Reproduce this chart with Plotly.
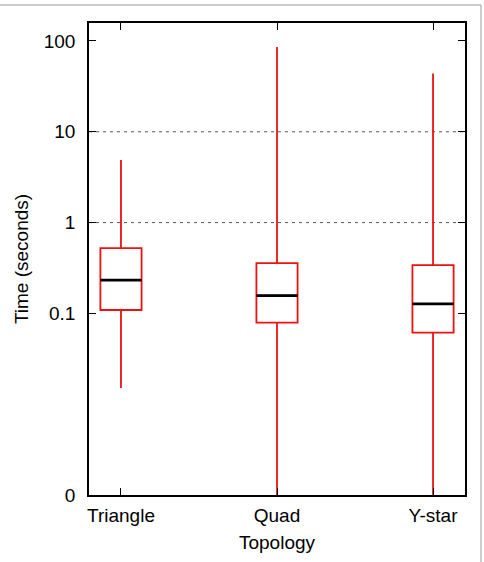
import plotly.graph_objects as go

categories = ["Triangle", "Quad", "Y-star"]
q1 = [0.109, 0.079, 0.0614]
median = [0.233, 0.157, 0.127]
q3 = [0.524, 0.358, 0.340]
lower = [0.0151, 0.001, 0.001]
upper = [4.89, 85.9, 43.8]

ytick_vals = [0.001, 0.1, 1, 10, 100]
ytick_text = ["0", "0.1", "1", "10", "100"]
grid_vals = [1, 10]

xpos = list(range(len(categories)))
box_w = 0.264
FONT = "Liberation Sans, Arial, Helvetica, sans-serif"
FS = 19

fig = go.Figure()
fig.add_trace(go.Box(
    x=xpos, q1=q1, median=median, q3=q3, lowerfence=lower, upperfence=upper,
    width=box_w, whiskerwidth=0, fillcolor="white",
    line=dict(color="#ee1111", width=1.8), boxpoints=False, showlegend=False,
))
for i, m in enumerate(median):
    fig.add_trace(go.Scatter(
        x=[xpos[i] - box_w / 2, xpos[i] + box_w / 2], y=[m, m], mode="lines",
        line=dict(color="black", width=2.8), showlegend=False, hoverinfo="skip",
    ))

for g in grid_vals:
    fig.add_shape(type="line", xref="paper", yref="y", x0=0, x1=1, y0=g, y1=g,
                  line=dict(color="#555555", width=1, dash="3px,4px"), layer="below")

# outer light frame (top and right)
fig.add_shape(type="line", xref="paper", yref="paper", x0=-0.25, x1=1.0426, y0=1.0381, y1=1.0381,
              line=dict(color="#bbbbbb", width=1.5))
fig.add_shape(type="line", xref="paper", yref="paper", x0=1.0426, x1=1.0426, y0=-0.2, y1=1.0381,
              line=dict(color="#bbbbbb", width=1.5))

fig.update_layout(
    width=484, height=562,
    margin=dict(l=89, r=19, t=23, b=67),
    paper_bgcolor="white", plot_bgcolor="white",
    font=dict(family=FONT, size=FS, color="black"),
    xaxis=dict(
        range=[-0.205, 2.205], tickvals=xpos, ticktext=categories,
        ticks="inside", ticklen=7, tickwidth=1.3, tickcolor="black",
        showline=True, linecolor="black", linewidth=1.5, mirror="ticks",
        showgrid=False, zeroline=False, ticklabelstandoff=2,
        title=dict(text="Topology", font=dict(size=FS), standoff=11),
        tickfont=dict(size=FS),
    ),
    yaxis=dict(
        type="log", range=[-3, 2.198], tickvals=ytick_vals, ticktext=ytick_text,
        ticks="inside", ticklen=7, tickwidth=1.3, tickcolor="black",
        showline=True, linecolor="black", linewidth=1.5, mirror="ticks",
        showgrid=False, zeroline=False, ticklabelstandoff=8,
        title=dict(text="Time (seconds)", font=dict(size=FS), standoff=10),
        tickfont=dict(size=FS),
    ),
)

fig.write_html("out.html")
